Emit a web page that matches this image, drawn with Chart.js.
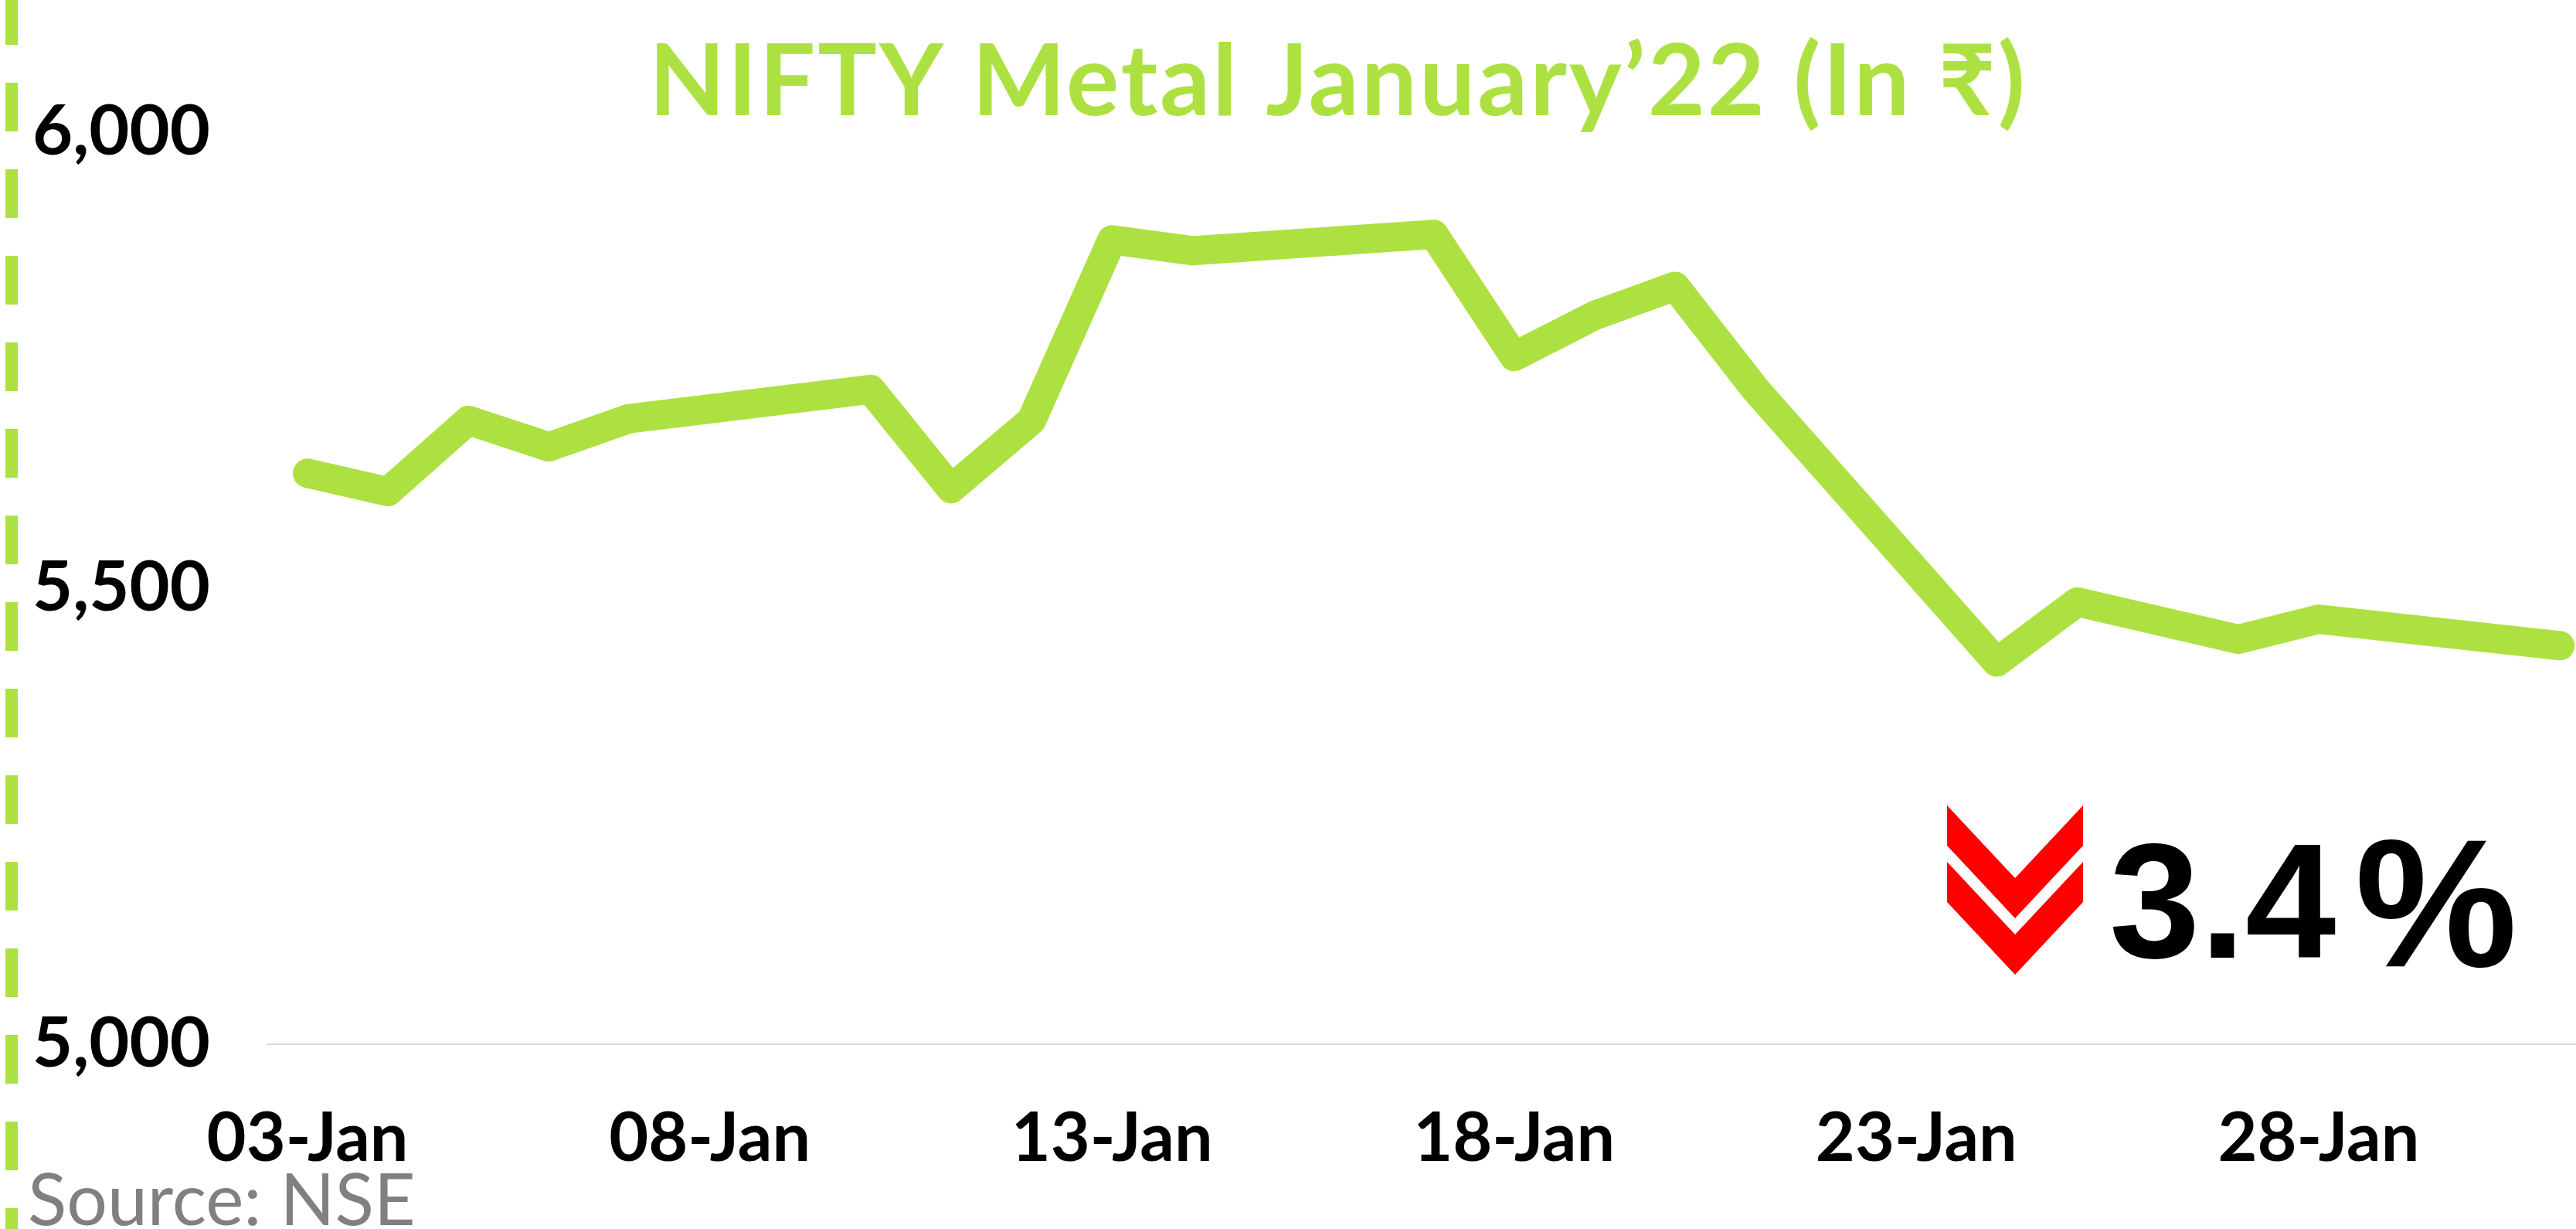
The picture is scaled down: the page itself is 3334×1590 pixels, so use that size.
<!DOCTYPE html>
<html>
<head>
<meta charset="utf-8">
<title>NIFTY Metal January'22</title>
<script src="https://cdn.jsdelivr.net/npm/chart.js@4.4.1/dist/chart.umd.min.js"></script>
<style>
  html, body { margin: 0; padding: 0; background: #fff; overflow: hidden; }
  #wrap { position: relative; width: 3334px; height: 1590px; }
</style>
</head>
<body>
<div id="wrap"><canvas id="chart" width="3334" height="1590"></canvas></div>
<script>
// trading days of Jan 2022 (26-Jan is a holiday) and the index close
const tradingDays = [3, 4, 5, 6, 7, 10, 11, 12, 13, 14, 17, 18, 19, 20, 21, 24, 25, 27, 28, 31];
const closeValues = [5626, 5606, 5684, 5655, 5686, 5718, 5609, 5684, 5882, 5870, 5888, 5754, 5799, 5831, 5718, 5419, 5485, 5444, 5466, 5437];
const tickDays = [3, 8, 13, 18, 23, 28];
const tickLabels = ['03-Jan', '08-Jan', '13-Jan', '18-Jan', '23-Jan', '28-Jan'];
const yMin = 5000, yMax = 6000, yStep = 500;
const chartTitle = 'NIFTY Metal January\u201922 (In \u20B9)';
const changeValue = '3.4';
const sourceText = 'Source: NSE';

const GREEN = '#ade142';

const decor = {
    id: 'decor',
    afterDraw(chart) {
        const ctx = chart.ctx;
        ctx.save();

        // dashed strip on the left edge
        ctx.fillStyle = GREEN;
        for (let y = -5; y < chart.height; y += 112) {
            ctx.fillRect(7, y, 16, 63);
        }

        // title
        ctx.fillStyle = GREEN;
        ctx.font = 'bold 128px Lato';
        ctx.letterSpacing = '3px';
        ctx.textAlign = 'center';
        ctx.textBaseline = 'alphabetic';
        ctx.fillText(chartTitle, 1732, 149);
        ctx.letterSpacing = '0px';

        // source
        ctx.fillStyle = '#808080';
        ctx.font = '93px Lato';
        ctx.textAlign = 'left';
        ctx.fillText(sourceText, 36, 1585);

        // red double chevron
        ctx.fillStyle = '#ff0000';
        const chevron = (top, bot) => {
            ctx.beginPath();
            ctx.moveTo(2520, top);
            ctx.lineTo(2608, top + 94);
            ctx.lineTo(2696, top);
            ctx.lineTo(2696, top + 52);
            ctx.lineTo(2608, bot);
            ctx.lineTo(2520, top + 52);
            ctx.closePath();
            ctx.fill();
        };
        chevron(1042, 1188);
        chevron(1115, 1261);

        // change figure
        ctx.fillStyle = '#000';
        ctx.font = 'bold 211px "Liberation Sans"';
        ctx.fillText(changeValue, 2730, 1239);
        ctx.font = 'bold 236px "Liberation Sans"';
        ctx.fillText('%', 3048, 1250);

        ctx.restore();
    }
};

const ctx = document.getElementById('chart').getContext('2d');
new Chart(ctx, {
    type: 'line',
    data: {
        datasets: [{
            label: 'NIFTY Metal',
            data: tradingDays.map((d, i) => ({ x: d, y: closeValues[i] })),
            borderColor: GREEN,
            backgroundColor: GREEN,
            borderWidth: 38,
            borderJoinStyle: 'round',
            borderCapStyle: 'round',
            pointRadius: 0,
            tension: 0,
            fill: false
        }]
    },
    options: {
        responsive: false,
        animation: false,
        devicePixelRatio: 1,
        layout: { padding: { top: 171, left: 42, right: 0, bottom: 0 } },
        scales: {
            x: {
                type: 'linear',
                min: 2.5,
                max: 31.2,
                afterBuildTicks: (scale) => {
                    scale.ticks = tickDays.map(v => ({ value: v }));
                },
                afterFit: (scale) => { scale.height = 239; },
                grid: { display: false, drawTicks: false },
                border: { display: true, color: '#d9d9d9', width: 2 },
                ticks: {
                    autoSkip: false,
                    maxRotation: 0,
                    padding: 70,
                    color: '#000',
                    font: { family: 'Lato', weight: 'bold', size: 88 },
                    callback: (v) => tickLabels[tickDays.indexOf(v)]
                }
            },
            y: {
                min: yMin,
                max: yMax,
                afterFit: (scale) => { scale.width = 304; },
                grid: { display: false, drawTicks: false },
                border: { display: false },
                ticks: {
                    stepSize: yStep,
                    crossAlign: 'far',
                    color: '#000',
                    font: { family: 'Lato', weight: 'bold', size: 90 },
                    callback: (v) => v.toLocaleString('en-US')
                }
            }
        },
        plugins: {
            legend: { display: false },
            title: { display: false },
            tooltip: { enabled: false }
        }
    },
    plugins: [decor]
});
</script>
</body>
</html>
